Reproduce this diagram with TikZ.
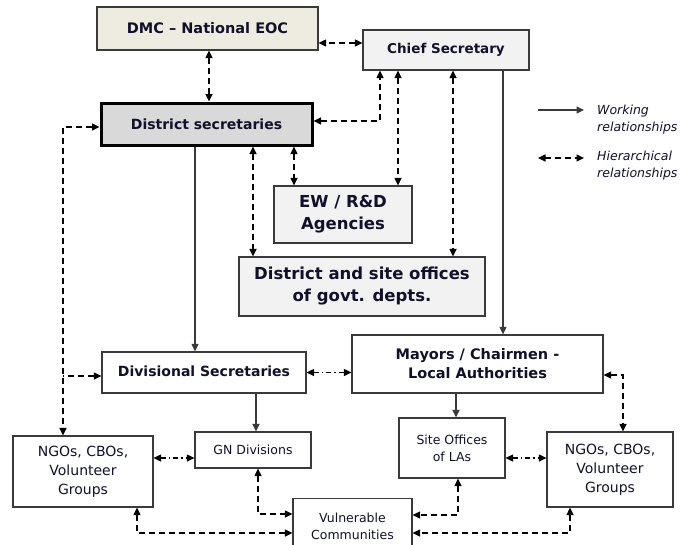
\documentclass[tikz,border=0pt]{standalone}
\usepackage{fontspec}
\setmainfont{DejaVu Sans}
\usetikzlibrary{calc,arrows.meta,positioning}
\definecolor{eocbeige}{HTML}{EEECE1}
\definecolor{lightgrey}{HTML}{F2F2F2}
\definecolor{midgrey}{HTML}{D9D9D9}
\definecolor{edgegrey}{HTML}{3A3A3A}
\definecolor{inktext}{HTML}{10102A}

\begin{document}
\begin{tikzpicture}[
  x=1pt,y=-1pt,
  box/.style={rectangle,draw=edgegrey,line width=1.2pt,align=center,
    inner sep=2pt,text=inktext},
  headbox/.style={box,font=\fontsize{14.5}{19}\selectfont\bfseries},
  bigbox/.style={box,font=\fontsize{16.5}{22}\selectfont\bfseries},
  plainbox/.style={box,font=\fontsize{14}{19}\selectfont},
  smallbox/.style={box,font=\fontsize{12.5}{17}\selectfont},
  work/.style={-{Triangle[length=7.5pt,width=7pt]},line width=1.1pt,color=edgegrey},
  hier/.style={{Triangle[length=7.5pt,width=7pt]}-{Triangle[length=7.5pt,width=7pt]},
    line width=1.2pt,dash pattern=on 6pt off 4pt},
  hierdot/.style={hier,dash pattern=on 5pt off 3pt on 1.5pt off 3pt}
]
  \useasboundingbox (0,0) rectangle (682,544);

  \node[headbox,fill=eocbeige,minimum width=221pt,minimum height=43pt] (dmc) at (207.5,28.5) {DMC -- National EOC};
  \node[headbox,fill=lightgrey,minimum width=166pt,minimum height=40pt,font=\fontsize{13.5}{17}\selectfont\bfseries] (chief) at (446,50) {Chief Secretary};
  \node[headbox,fill=midgrey,draw=black,line width=3pt,minimum width=211pt,minimum height=42pt,font=\fontsize{14}{17}\selectfont\bfseries] (dsec) at (206.5,124) {District secretaries};
  \node[bigbox,fill=lightgrey,minimum width=138pt,minimum height=57pt] (ew) at (343,214.5) {EW / R\&D\\Agencies};
  \node[bigbox,fill=lightgrey,minimum width=246pt,minimum height=59pt] (dso) at (362,286.5) {District and site offices\\of govt. depts.};
  \node[headbox,fill=white,minimum width=204pt,minimum height=41pt,font=\fontsize{14}{17}\selectfont\bfseries] (divsec) at (204,372.5) {\raisebox{3pt}{Divisional Secretaries}};
  \node[headbox,fill=white,minimum width=251pt,minimum height=58pt] (mayors) at (477.5,364) {Mayors / Chairmen -\\Local Authorities};
  \node[smallbox,minimum width=116pt,minimum height=36pt] (gn) at (253,450) {GN Divisions};
  \node[plainbox,minimum width=140pt,minimum height=71pt] (ngol) at (83,471.5) {NGOs, CBOs,\\Volunteer\\Groups};
  \node[smallbox,minimum width=106pt,minimum height=60pt] (site) at (452,448) {Site Offices\\of LAs};
  \node[plainbox,minimum width=126pt,minimum height=75pt] (ngor) at (610,469.5) {NGOs, CBOs,\\Volunteer\\Groups};
  \node[smallbox,minimum width=119pt,minimum height=55pt] (vul) at (352.5,526) {Vulnerable\\Communities};

  \coordinate (lft) at ([xshift=-20pt]ngol.north);

  \draw[hier] ([xshift=1.5pt]dmc.south) -- ([xshift=1.5pt]dmc.south |- dsec.north);
  \draw[hier] ([yshift=7pt]chief.west) -- ([yshift=7pt]chief.west -| dmc.east);
  \draw[hier] ([yshift=3pt]dsec.east) -| ([xshift=-66pt]chief.south);
  \draw[hier] ([xshift=-48pt]chief.south) -- ([xshift=-48pt]chief.south |- ew.north);
  \draw[hier] ([xshift=7pt]chief.south) -- ([xshift=7pt]chief.south |- dso.north);
  \draw[work] ([xshift=57pt]chief.south) -- ([xshift=57pt]chief.south |- mayors.north);
  \draw[hier] ([xshift=87.5pt]dsec.south) -- ([xshift=87.5pt]dsec.south |- ew.north);
  \draw[hier] ([xshift=46.5pt]dsec.south) -- ([xshift=46.5pt]dsec.south |- dso.north);
  \draw[work] ([xshift=-11.5pt]dsec.south) -- ([xshift=-11.5pt]dsec.south |- divsec.north);
  \draw[hier] ([yshift=-3pt]dsec.west) -| (lft);
  \draw[hier,{Triangle[length=7.5pt,width=7pt]}-] ([yshift=-3.5pt]divsec.west) -- ([yshift=-3.5pt]divsec.west -| lft);
  \draw[hierdot] (divsec.east) -- (divsec.east -| mayors.west);
  \draw[work,line width=1.8pt] ([xshift=3pt]gn.north |- divsec.south) -- ([xshift=3pt]gn.north);
  \draw[work,line width=1.8pt] ([xshift=4pt]site.north |- mayors.south) -- ([xshift=4pt]site.north);
  \draw[hier] ([yshift=-11pt]mayors.east) -| ([xshift=13pt]ngor.north);
  \draw[hierdot] ([yshift=13.5pt]ngol.east) -- ([yshift=13.5pt]ngol.east -| gn.west);
  \draw[hierdot] ([yshift=-10pt]site.east) -- ([yshift=-10pt]site.east -| ngor.west);
  \draw[hier] ([xshift=5pt]gn.south) |- ([yshift=12pt]vul.west);
  \draw[hier] ([xshift=54pt]ngol.south) |- ([yshift=-7pt]vul.west);
  \draw[hier] ([xshift=6pt]site.south) |- ([yshift=11pt]vul.east);
  \draw[hier] ([xshift=-40pt]ngor.south) |- ([yshift=-7pt]vul.east);

  % legend
  \node[anchor=west,align=left,text=inktext,inner sep=0pt,font=\fontsize{12.5}{17}\selectfont\itshape] (wlab) at (597,119.5) {Working\\relationships};
  \node[anchor=west,align=left,text=inktext,inner sep=0pt,font=\fontsize{12.5}{17}\selectfont\itshape] (hlab) at (597,165.5) {Hierarchical\\relationships};
  \coordinate (wa) at (538,110);
  \coordinate (wb) at (584,110);
  \coordinate (ha) at (538,158);
  \coordinate (hb) at (584,158);
  \draw[work] (wa) -- (wb);
  \draw[hier] (ha) -- (hb);
\end{tikzpicture}
\end{document}
